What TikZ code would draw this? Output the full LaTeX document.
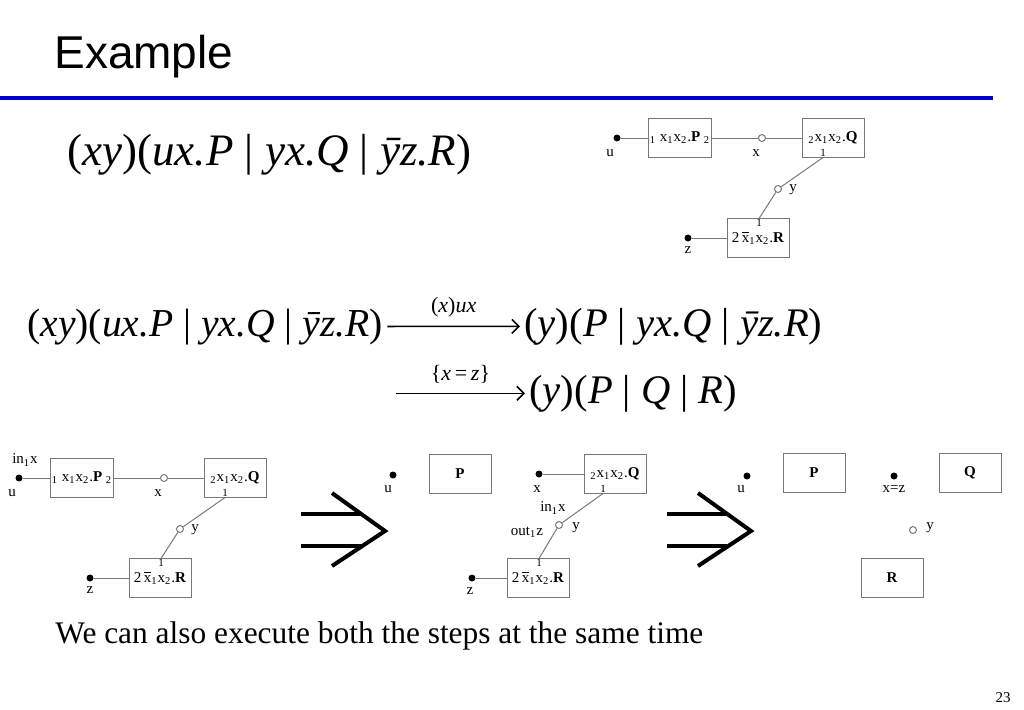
\documentclass[tikz,border=0pt]{standalone}
\usepackage{fontspec}
\setmainfont{Liberation Serif}
\newfontfamily\headfont{Liberation Sans}
\usetikzlibrary{arrows.meta}
\definecolor{ruleblue}{RGB}{0,0,204}
\definecolor{wiregray}{RGB}{120,120,120}
\newcommand{\xbar}{$\overline{\mbox{x}}$}

\tikzset{
  netbox/.style={draw=wiregray, line width=0.5pt, minimum width=31pt, minimum height=19.5pt, inner sep=0.5pt, font=\fontsize{7.5}{8}\selectfont},
  pin/.style={circle, fill=black, inner sep=0pt, minimum size=3.5pt},
  hole/.style={circle, draw=wiregray, fill=white, line width=0.5pt, inner sep=0pt, minimum size=3.5pt},
  wire/.style={draw=wiregray, line width=0.5pt},
  tag/.style={font=\fontsize{7.5}{8}\selectfont, inner sep=0pt},
  port/.style={font=\fontsize{5.5}{6}\selectfont, inner sep=0.3pt},
  formula/.style={inner sep=2pt, anchor=base west},
  reduce/.style={line width=0.8pt, -{Straight Barb[length=3.5pt,width=7pt]}},
  implies/.style={line width=2pt},
}

\begin{document}
\begin{tikzpicture}[x=0.5pt, y=-0.5pt]
\useasboundingbox (0,0) rectangle (1024,709);

% heading
\node[anchor=base west, inner sep=0pt, font=\headfont\fontsize{23}{27}\selectfont] (title) at (54,68) {Example};
\draw[line width=2pt, ruleblue] (0,98) -- (993,98);

% the process
\node[formula, font=\fontsize{22.5}{26}\selectfont] (f0) at (63,165) {(\textit{xy})(\textit{ux.P} | \textit{yx.Q} | \textit{\=yz.R})};

% its net
\node[pin] (uT) at (617,138) {};
\node[tag] (uTl) at (610,153) {u};
\node[netbox] (PT) at (680,138) {\textsubscript{1} x\textsubscript{1}x\textsubscript{2}.\textbf{P} \textsubscript{2}};
\node[hole] (xT) at (762,138) {};
\node[tag] (xTl) at (756,153) {x};
\node[netbox] (QT) at (833,138) {\textsubscript{2}x\textsubscript{1}x\textsubscript{2}.\textbf{Q}};
\node[port, anchor=south] (q1T) at (823,157.5) {1};
\node[hole] (yT) at (778,189) {};
\node[tag] (yTl) at (793,190) {y};
\node[netbox] (RT) at (758,238) {2\,\xbar\textsubscript{1}x\textsubscript{2}.\textbf{R}};
\node[port, anchor=north] (r1T) at (759,218.5) {1};
\node[pin] (zT) at (688,238) {};
\node[tag] (zTl) at (688,250) {z};
\draw[wire] (uT) -- (PT);
\draw[wire] (PT) -- (xT) -- (QT);
\draw[wire] (q1T.south) -- (yT) -- (r1T.north);
\draw[wire] (zT) -- (RT);

% reductions
\node[formula, font=\fontsize{19.8}{23}\selectfont] (f1) at (23,336) {(\textit{xy})(\textit{ux.P} | \textit{yx.Q} | \textit{\=yz.R})};
\node[formula, font=\fontsize{20.3}{23}\selectfont] (f2) at (520,336) {(\textit{y})(\textit{P} | \textit{yx.Q} | \textit{\=yz.R})};
\draw[reduce] (f1) -- node[above=1pt, font=\fontsize{11}{12}\selectfont] {(\textit{x})\textit{ux}} (f2);
\node[formula, font=\fontsize{20.3}{23}\selectfont] (f3) at (525,403) {(\textit{y})(\textit{P} | \textit{Q} | \textit{R})};
\coordinate (s3) at (396,0 |- f3);
\draw[reduce] (s3) -- node[above=1pt, font=\fontsize{11}{12}\selectfont] {\{\textit{x}\,=\,\textit{z}\}} (f3);

% net before
\begin{scope}[shift={(-598,340)}]
\node[pin] (uB) at (617,138) {};
\node[tag] (uBl) at (610,153) {u};
\node[tag] (inB) at (623,120) {in\textsubscript{1}x};
\node[netbox] (PB) at (680,138) {\textsubscript{1} x\textsubscript{1}x\textsubscript{2}.\textbf{P} \textsubscript{2}};
\node[hole] (xB) at (762,138) {};
\node[tag] (xBl) at (756,153) {x};
\node[netbox] (QB) at (833,138) {\textsubscript{2}x\textsubscript{1}x\textsubscript{2}.\textbf{Q}};
\node[port, anchor=south] (q1B) at (823,157.5) {1};
\node[hole] (yB) at (778,189) {};
\node[tag] (yBl) at (793,190) {y};
\node[netbox] (RB) at (758,238) {2\,\xbar\textsubscript{1}x\textsubscript{2}.\textbf{R}};
\node[port, anchor=north] (r1B) at (759,218.5) {1};
\node[pin] (zB) at (688,238) {};
\node[tag] (zBl) at (688,250) {z};
\draw[wire] (uB) -- (PB);
\draw[wire] (PB) -- (xB) -- (QB);
\draw[wire] (q1B.south) -- (yB) -- (r1B.north);
\draw[wire] (zB) -- (RB);
\end{scope}

% first step
\draw[implies] (301,514) -- (361,514);
\draw[implies] (301,546) -- (361,546);
\draw[implies] (332,493) -- (385,531) -- (332,566);

% net after the first step
\node[pin] (uM) at (393,475) {};
\node[tag] (uMl) at (388,489) {u};
\node[netbox] (PM) at (460,474) {\textbf{P}};
\node[pin] (xM) at (539,474) {};
\node[tag] (xMl) at (537,489) {x};
\node[netbox] (QM) at (615,474) {\textsubscript{2}x\textsubscript{1}x\textsubscript{2}.\textbf{Q}};
\node[port, anchor=south] (q1M) at (603,493.5) {1};
\node[hole] (yM) at (559,525) {};
\node[tag] (inM) at (553,508) {in\textsubscript{1}x};
\node[tag] (outM) at (527,532) {out\textsubscript{1}z};
\node[tag] (yMl) at (576,528) {y};
\node[netbox] (RM) at (538,578) {2\,\xbar\textsubscript{1}x\textsubscript{2}.\textbf{R}};
\node[port, anchor=north] (r1M) at (539,558.5) {1};
\node[pin] (zM) at (472,578) {};
\node[tag] (zMl) at (470,591) {z};
\draw[wire] (xM) -- (QM);
\draw[wire] (q1M.south) -- (yM) -- (r1M.north);
\draw[wire] (zM) -- (RM);

% second step
\draw[implies] (667,514) -- (727,514);
\draw[implies] (667,546) -- (727,546);
\draw[implies] (698,493) -- (751,531) -- (698,566);

% net at the end
\node[pin] (uR) at (747,476) {};
\node[tag] (uRl) at (741,489) {u};
\node[netbox] (PR) at (814,473) {\textbf{P}};
\node[pin] (xzR) at (894,476) {};
\node[tag] (xzRl) at (894,489) {x=z};
\node[netbox] (QR) at (970,473) {\textbf{Q}};
\node[hole] (yR) at (913,530) {};
\node[tag] (yRl) at (930,528) {y};
\node[netbox] (RR) at (892,578) {\textbf{R}};

% remark
\node[anchor=base west, inner sep=0pt, font=\fontsize{15.7}{18}\selectfont] (note) at (55,643) {We can also execute both the steps at the same time};
\node[anchor=base east, inner sep=0pt, font=\fontsize{7.5}{9}\selectfont] (page) at (1011,702) {23};
\end{tikzpicture}
\end{document}
